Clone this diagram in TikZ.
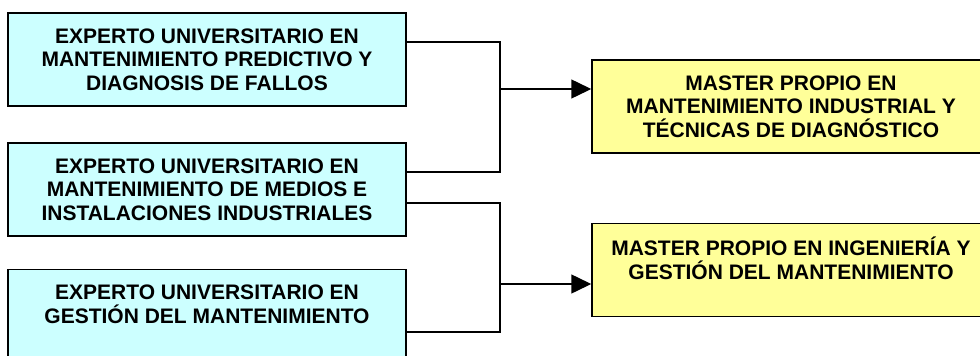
\documentclass[tikz,border=0pt]{standalone}
\usepackage{fontspec}
\setmainfont{Liberation Sans}
\usetikzlibrary{positioning}
\usetikzlibrary{arrows.meta}
\definecolor{expertocyan}{HTML}{CCFFFF}
\definecolor{masteryellow}{HTML}{FFFF99}
\tikzset{>={Triangle[length=20pt,width=19pt]}}
\tikzset{
	% course boxes
	curso/.style={draw=black,line width=1.5pt,minimum width=398pt,minimum height=93pt,
		inner sep=0pt,align=center,font=\fontsize{21}{23.5}\selectfont\bfseries},
	experto/.style={curso,fill=expertocyan},
	master/.style={curso,fill=masteryellow},
	% connector style
	enlace/.style={line width=1.5pt},
}
\begin{document}
\begin{tikzpicture}[x=1pt,y=-1pt]
\useasboundingbox (0,0) rectangle (980,356);
% the expert courses
\node[experto] (exp1) at (207,59.5) {EXPERTO UNIVERSITARIO EN\\MANTENIMIENTO PREDICTIVO Y\\DIAGNOSIS DE FALLOS};
\node[experto] (exp2) at (207,189.5) {EXPERTO UNIVERSITARIO EN\\MANTENIMIENTO DE MEDIOS E\\INSTALACIONES INDUSTRIALES};
\node[experto] (exp3) at (207,316) {EXPERTO UNIVERSITARIO EN\\GESTIÓN DEL MANTENIMIENTO\\\mbox{}};
% the masters
\node[master] (mas1) at (791,106.5) {MASTER PROPIO EN\\MANTENIMIENTO INDUSTRIAL Y\\TÉCNICAS DE DIAGNÓSTICO};
\node[master] (mas2) at (791,270) {MASTER PROPIO EN INGENIERÍA Y\\GESTIÓN DEL MANTENIMIENTO\\\mbox{}};
% junctions
\coordinate (j1) at (500,89);
\coordinate (j2) at (500,284);
% connectors
\draw[enlace] ([yshift=17.5pt]exp1.east) -| (j1) |- ([yshift=17.5pt]exp2.east);
\draw[enlace,->] (j1) -- (j1 -| mas1.west);
\draw[enlace] ([yshift=-13.5pt]exp2.east) -| (j2) |- ([yshift=-16pt]exp3.east);
\draw[enlace,->] (j2) -- (j2 -| mas2.west);
\end{tikzpicture}
\end{document}
